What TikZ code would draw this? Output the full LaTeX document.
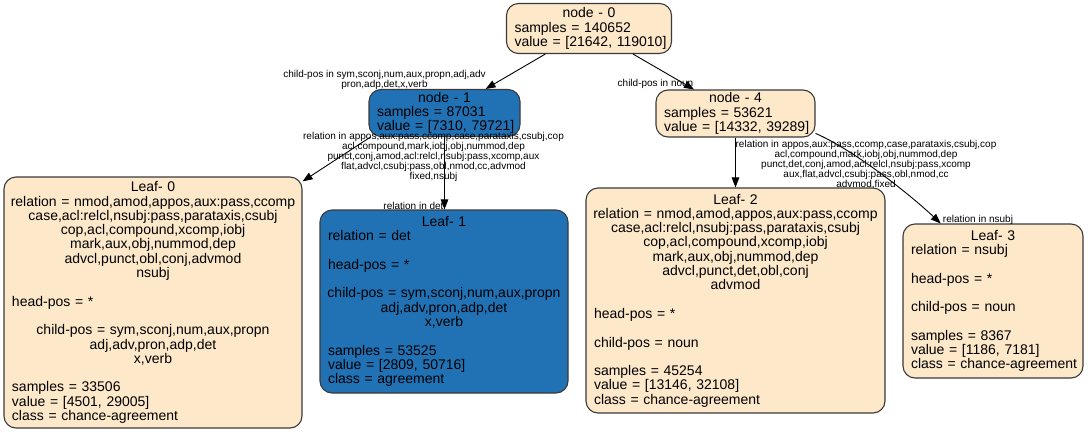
\documentclass[tikz,border=0pt]{standalone}
\usepackage{fontspec}
\setmainfont{Liberation Sans}
\usetikzlibrary{arrows.meta,calc}
\definecolor{cream}{HTML}{FDE8CA}
\definecolor{treeblue}{HTML}{2171B5}
\definecolor{bordergray}{HTML}{3A3A3A}
\newcommand\leftln[1]{\makebox[\linewidth][l]{#1}}
\newcommand\midln[1]{\makebox[\linewidth][c]{#1}}
\newcommand\blankln{\mbox{}}
\tikzset{
  tnode/.style={draw=bordergray, line width=1.1pt, rounded corners=12pt, fill=cream,
    align=center, font=\fontsize{14}{14.3}\selectfont, inner xsep=8pt, inner ysep=0pt},
  bluenode/.style={tnode, fill=treeblue},
  elabel/.style={font=\fontsize{10}{10}\selectfont, align=center, inner sep=0pt},
  conn/.style={-{Triangle[length=10pt,width=7.5pt]}, line width=0.9pt, black},
}
\begin{document}
\begin{tikzpicture}[x=1pt,y=-1pt]
\useasboundingbox (0,0) rectangle (1088,432);

% inner nodes
\node[tnode, text width=149pt, minimum width=165pt, minimum height=50pt] (n0) at (589,28.5)
  {\midln{node - 0}\\ \leftln{samples = 140652}\\ \leftln{value = [21642, 119010]}};
\node[bluenode, text width=135pt, minimum width=151pt, minimum height=47pt] (n1) at (444.5,113)
  {\midln{node - 1}\\ \leftln{samples = 87031}\\ \leftln{value = [7310, 79721]}};
\node[tnode, text width=143pt, minimum width=159pt, minimum height=47pt] (n4) at (735.5,113.5)
  {\midln{node - 4}\\ \leftln{samples = 53621}\\ \leftln{value = [14332, 39289]}};

% leaves
\node[tnode, text width=282pt, minimum width=298pt, minimum height=251pt] (l0) at (153,302.5)
  {\midln{Leaf- 0}\\
   \midln{relation = nmod,amod,appos,aux:pass,ccomp}\\
   \midln{case,acl:relcl,nsubj:pass,parataxis,csubj}\\
   \midln{cop,acl,compound,xcomp,iobj}\\
   \midln{mark,aux,obj,nummod,dep}\\
   \midln{advcl,punct,obl,conj,advmod}\\
   \midln{nsubj}\\
   \blankln\\
   \leftln{head-pos = *}\\
   \blankln\\
   \midln{child-pos = sym,sconj,num,aux,propn}\\
   \midln{adj,adv,pron,adp,det}\\
   \midln{x,verb}\\
   \blankln\\
   \leftln{samples = 33506}\\
   \leftln{value = [4501, 29005]}\\
   \leftln{class = chance-agreement}};

\node[bluenode, text width=232pt, minimum width=248pt, minimum height=183pt] (l1) at (444,301.5)
  {\midln{Leaf- 1}\\
   \leftln{relation = det}\\
   \blankln\\
   \leftln{head-pos = *}\\
   \blankln\\
   \midln{child-pos = sym,sconj,num,aux,propn}\\
   \midln{adj,adv,pron,adp,det}\\
   \midln{x,verb}\\
   \blankln\\
   \leftln{samples = 53525}\\
   \leftln{value = [2809, 50716]}\\
   \leftln{class = agreement}};

\node[tnode, text width=283pt, minimum width=299pt, minimum height=225pt] (l2) at (735.5,300.5)
  {\midln{Leaf- 2}\\
   \midln{relation = nmod,amod,appos,aux:pass,ccomp}\\
   \midln{case,acl:relcl,nsubj:pass,parataxis,csubj}\\
   \midln{cop,acl,compound,xcomp,iobj}\\
   \midln{mark,aux,obj,nummod,dep}\\
   \midln{advcl,punct,det,obl,conj}\\
   \midln{advmod}\\
   \blankln\\
   \leftln{head-pos = *}\\
   \blankln\\
   \leftln{child-pos = noun}\\
   \blankln\\
   \leftln{samples = 45254}\\
   \leftln{value = [13146, 32108]}\\
   \leftln{class = chance-agreement}};

\node[tnode, text width=164pt, minimum width=180pt, minimum height=154pt] (l3) at (993,301)
  {\midln{Leaf- 3}\\
   \leftln{relation = nsubj}\\
   \blankln\\
   \leftln{head-pos = *}\\
   \blankln\\
   \leftln{child-pos = noun}\\
   \blankln\\
   \leftln{samples = 8367}\\
   \leftln{value = [1186, 7181]}\\
   \leftln{class = chance-agreement}};

% connectors
\draw[conn] (n0) -- (n1);
\draw[conn] (n0) -- (n4);
\draw[conn] (n1.-162) -- (l0.39);
\draw[conn] (n1.south) -- (n1.south |- l1.north);
\draw[conn] (n4.south) -- (n4.south |- l2.north);
\draw[conn] (n4.-14) .. controls (850,148) and (905,190) .. (l3.124);

% edge labels
\node[elabel] (e01) at (384.5,79.5) {child-pos in sym,sconj,num,aux,propn,adj,adv\\ pron,adp,det,x,verb};
\node[elabel] (e04) at (655.5,84) {child-pos in noun};
\node[elabel] (e10) at (433.5,156.5) {relation in appos,aux:pass,ccomp,case,parataxis,csubj,cop\\
  acl,compound,mark,iobj,obj,nummod,dep\\
  punct,conj,amod,acl:relcl,nsubj:pass,xcomp,aux\\
  flat,advcl,csubj:pass,obl,nmod,cc,advmod\\
  fixed,nsubj};
\node[elabel] (e11) at (413.5,205.5) {relation in det};
\node[elabel] (e42) at (866,165) {relation in appos,aux:pass,ccomp,case,parataxis,csubj,cop\\
  acl,compound,mark,iobj,obj,nummod,dep\\
  punct,det,conj,amod,acl:relcl,nsubj:pass,xcomp\\
  aux,flat,advcl,csubj:pass,obl,nmod,cc\\
  advmod,fixed};
\node[elabel] (e43) at (978,219.5) {relation in nsubj};
\end{tikzpicture}
\end{document}
